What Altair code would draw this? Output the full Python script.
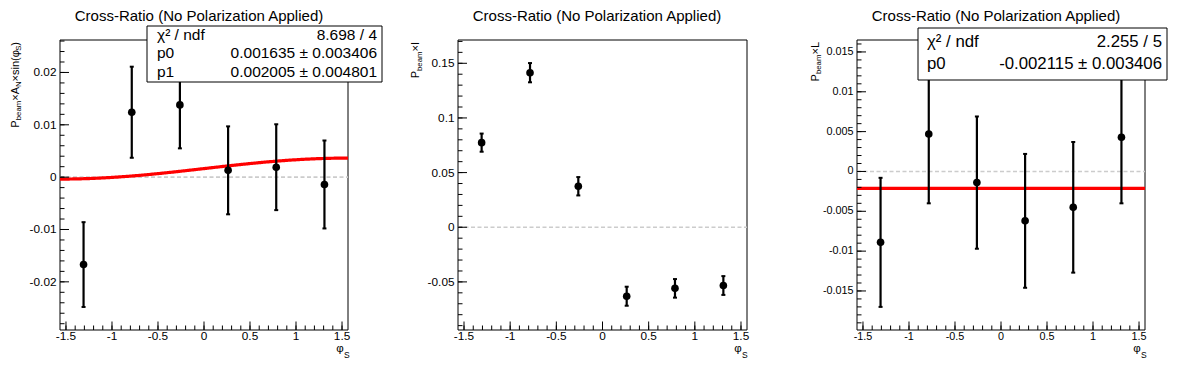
import altair as alt
import pandas as pd

# ---------------- data ----------------
phi_s = [-1.309, -0.785, -0.262, 0.262, 0.785, 1.309]

an_val = [-0.0167, 0.0124, 0.0138, 0.0013, 0.0019, -0.0014]
an_err = [0.0081, 0.0087, 0.0083, 0.0084, 0.0082, 0.0084]

i_val = [0.0774, 0.1414, 0.0375, -0.0631, -0.0559, -0.0533]
i_err = [0.0083, 0.0088, 0.0084, 0.0087, 0.0085, 0.0086]

l_val = [-0.0089, 0.0047, -0.0014, -0.0062, -0.0045, 0.0043]
l_err = [0.0081, 0.0087, 0.0083, 0.0084, 0.0082, 0.0083]

# fit results (stat boxes)
fit1_p0, fit1_p1 = 0.001635, 0.002005
fit3_p0 = -0.002115
stats1 = [("χ² / ndf", "8.698 / 4"), ("p0", "0.001635 ± 0.003406"), ("p1", "0.002005 ± 0.004801")]
stats3 = [("χ² / ndf", "2.255 / 5"), ("p0", "-0.002115 ± 0.003406")]

title_text = "Cross-Ratio (No Polarization Applied)"

x_ticks = [-1.5, -1, -0.5, 0, 0.5, 1, 1.5]
x_tick_labels = ["-1.5", "-1", "-0.5", "0", "0.5", "1", "1.5"]

y1_ticks = [-0.02, -0.01, 0, 0.01, 0.02]
y1_labels = ["-0.02", "-0.01", "0", "0.01", "0.02"]
y2_ticks = [-0.05, 0, 0.05, 0.1, 0.15]
y2_labels = ["-0.05", "0", "0.05", "0.1", "0.15"]
y3_ticks = [-0.015, -0.01, -0.005, 0, 0.005, 0.01, 0.015]
y3_labels = ["-0.015", "-0.01", "-0.005", "0", "0.005", "0.01", "0.015"]

X_DOM = [-1.565, 1.565]
Y1_DOM = [-0.0292, 0.0262]
Y2_DOM = [-0.094, 0.1713]
Y3_DOM = [-0.0199, 0.0165]

FONT = "Liberation Sans, Arial, Helvetica, sans-serif"
H = 290
ONE = pd.DataFrame({"o": [0]})

WID = {"P": .667, "b": .556, "e": .556, "a": .556, "m": .833, "×": .584, "A": .667,
       "N": .722, "s": .5, "i": .222, "n": .556, "(": .333, ")": .333, "φ": .58,
       "S": .667, "I": .278, "L": .556}


def tw(s, size):
    return sum(WID.get(c, .556) for c in s) * size


def minor(lo, hi, step):
    out = []
    k = int(round(lo / step))
    while k * step <= hi + 1e-12:
        out.append(round(k * step, 6))
        k += 1
    return out


def txt(t, x, y, size, align="center", baseline="middle", angle=0, color="black"):
    kw = dict(text=t, align=align, baseline=baseline, fontSize=size, font=FONT, color=color)
    if angle:
        kw["angle"] = angle
    return alt.Chart(ONE).mark_text(**kw).encode(x=alt.value(x), y=alt.value(y))


def panel(W, vals, errs, ydom, yt, ylab, yminor, lab_size, ytitle, ytitle_x,
          fit=None, stats=None, box=None, stat_size=15, anchor=False):
    xs = alt.Scale(domain=X_DOM, nice=False, zero=False)
    ys = alt.Scale(domain=ydom, nice=False, zero=False)
    df = pd.DataFrame({"phi": phi_s, "val": vals, "err": errs})
    base = alt.Chart(df).transform_calculate(lo="datum.val - datum.err", hi="datum.val + datum.err")
    layers = []
    if anchor:
        layers.append(alt.Chart(ONE).mark_rect(color="white").encode(
            x=alt.value(-52), x2=alt.value(-51), y=alt.value(-32), y2=alt.value(-31)))
    # frame
    layers.append(alt.Chart(ONE).mark_rect(fill="transparent", stroke="black", strokeWidth=1).encode(
        x=alt.value(0), x2=alt.value(W), y=alt.value(0), y2=alt.value(H)))
    # zero line
    layers.append(alt.Chart(pd.DataFrame({"z": [0]})).mark_rule(
        color="#cccccc", strokeWidth=1.6, strokeDash=[4, 2.5]).encode(
        y=alt.Y("z:Q", scale=ys, axis=None), x=alt.value(0), x2=alt.value(W)))
    # fit
    if fit is not None:
        layers.append(fit(xs, ys))
    # error bars
    layers.append(base.mark_rule(color="black", strokeWidth=2.2).encode(
        x=alt.X("phi:Q", scale=xs, axis=None), y=alt.Y("lo:Q", scale=ys, axis=None), y2="hi:Q"))
    for f in ("lo", "hi"):
        layers.append(base.mark_tick(orient="horizontal", size=4, thickness=2, color="black", opacity=1).encode(
            x=alt.X("phi:Q", scale=xs, axis=None), y=alt.Y(f + ":Q", scale=ys, axis=None)))
    layers.append(base.mark_circle(size=58, color="black", opacity=1).encode(
        x=alt.X("phi:Q", scale=xs, axis=None), y=alt.Y("val:Q", scale=ys, axis=None)))
    # x ticks
    layers.append(alt.Chart(pd.DataFrame({"v": minor(-1.5, 1.5, 0.1)})).mark_rule(color="black", strokeWidth=1).encode(
        x=alt.X("v:Q", scale=xs, axis=None), y=alt.value(H), y2=alt.value(H - 4.5)))
    xtdf = pd.DataFrame({"v": x_ticks, "t": x_tick_labels})
    layers.append(alt.Chart(xtdf).mark_rule(color="black", strokeWidth=1).encode(
        x=alt.X("v:Q", scale=xs, axis=None), y=alt.value(H), y2=alt.value(H - 8.5)))
    layers.append(alt.Chart(xtdf).mark_text(baseline="top", align="center", fontSize=lab_size, font=FONT, color="black").encode(
        x=alt.X("v:Q", scale=xs, axis=None), y=alt.value(H + 1), text="t:N"))
    # y ticks
    layers.append(alt.Chart(pd.DataFrame({"v": yminor})).mark_rule(color="black", strokeWidth=1).encode(
        y=alt.Y("v:Q", scale=ys, axis=None), x=alt.value(0), x2=alt.value(4.5)))
    ytdf = pd.DataFrame({"v": yt, "t": ylab})
    layers.append(alt.Chart(ytdf).mark_rule(color="black", strokeWidth=1).encode(
        y=alt.Y("v:Q", scale=ys, axis=None), x=alt.value(0), x2=alt.value(9)))
    layers.append(alt.Chart(ytdf).mark_text(baseline="middle", align="right", fontSize=lab_size, font=FONT, color="black").encode(
        y=alt.Y("v:Q", scale=ys, axis=None), x=alt.value(-3.5), text="t:N"))
    # title
    layers.append(txt(title_text, 139, -24.5, 15))
    # y title pieces (rotated)
    main, sub = 11, 7.8
    total = sum(tw(t, main if k == "m" else sub) for t, k in ytitle)
    yy = 2 + total
    for t, k in ytitle:
        fs = main if k == "m" else sub
        xx = ytitle_x + (2.5 if k == "s" else 0)
        layers.append(txt(t, xx, yy, fs, align="left", baseline="alphabetic", angle=270))
        yy -= tw(t, fs)
    # x title
    layers.append(txt("φ", 280, 309, 11.5))
    layers.append(txt("S", 284, 315, 8.5, align="left"))
    # stat box
    if stats is not None:
        bx0, bx1, by0, by1, tl, tr, rows = box
        layers.append(alt.Chart(ONE).mark_rect(fill="white", stroke="black", strokeWidth=1).encode(
            x=alt.value(bx0), x2=alt.value(bx1), y=alt.value(by0), y2=alt.value(by1)))
        for (a, b), ry in zip(stats, rows):
            layers.append(txt(a, tl, ry, stat_size, align="left"))
            layers.append(txt(b, tr, ry, stat_size, align="right"))
    return alt.layer(*layers).properties(width=W, height=H)


def fit1(xs, ys):
    return alt.Chart(alt.sequence(X_DOM[0], X_DOM[1] + 0.005, 0.01, as_="x")).transform_calculate(
        y=f"{fit1_p0} + {fit1_p1} * sin(datum.x)").mark_line(color="#ff0000", strokeWidth=3.2).encode(
        x=alt.X("x:Q", scale=xs, axis=None), y=alt.Y("y:Q", scale=ys, axis=None))


def fit3(xs, ys):
    return alt.Chart(pd.DataFrame({"a": [X_DOM[0]], "b": [X_DOM[1]], "p": [fit3_p0]})).mark_rule(
        color="#ff0000", strokeWidth=3.2).encode(
        x=alt.X("a:Q", scale=xs, axis=None), x2="b:Q", y=alt.Y("p:Q", scale=ys, axis=None))


yt1 = [("P", "m"), ("beam", "s"), ("×A", "m"), ("N", "s"), ("×sin(φ", "m"), ("S", "s"), (")", "m")]
yt2 = [("P", "m"), ("beam", "s"), ("×I", "m")]
yt3 = [("P", "m"), ("beam", "s"), ("×L", "m")]

p1 = panel(288, an_val, an_err, Y1_DOM, y1_ticks, y1_labels, minor(-0.028, 0.026, 0.002), 11.8, yt1, -41.5,
           fit=fit1, stats=stats1, box=(87, 322, -14, 42, 97, 317, [-5.5, 13, 31.5]), stat_size=15.5, anchor=True)
p2 = panel(289, i_val, i_err, Y2_DOM, y2_ticks, y2_labels, minor(-0.09, 0.17, 0.01), 11.8, yt2, -39)
p3 = panel(288, l_val, l_err, Y3_DOM, y3_ticks, y3_labels, minor(-0.019, 0.016, 0.001), 10.8, yt3, -38.5,
           fit=fit3, stats=stats3, box=(61, 310, -12, 40, 70, 305, [1.5, 24]), stat_size=16.8)

chart = alt.hconcat(p1, p2, p3, spacing=110, bounds="flush").properties(padding=0).configure_view(stroke=None)

chart.save("out.html", embed_options={"renderer": "svg", "actions": False})
